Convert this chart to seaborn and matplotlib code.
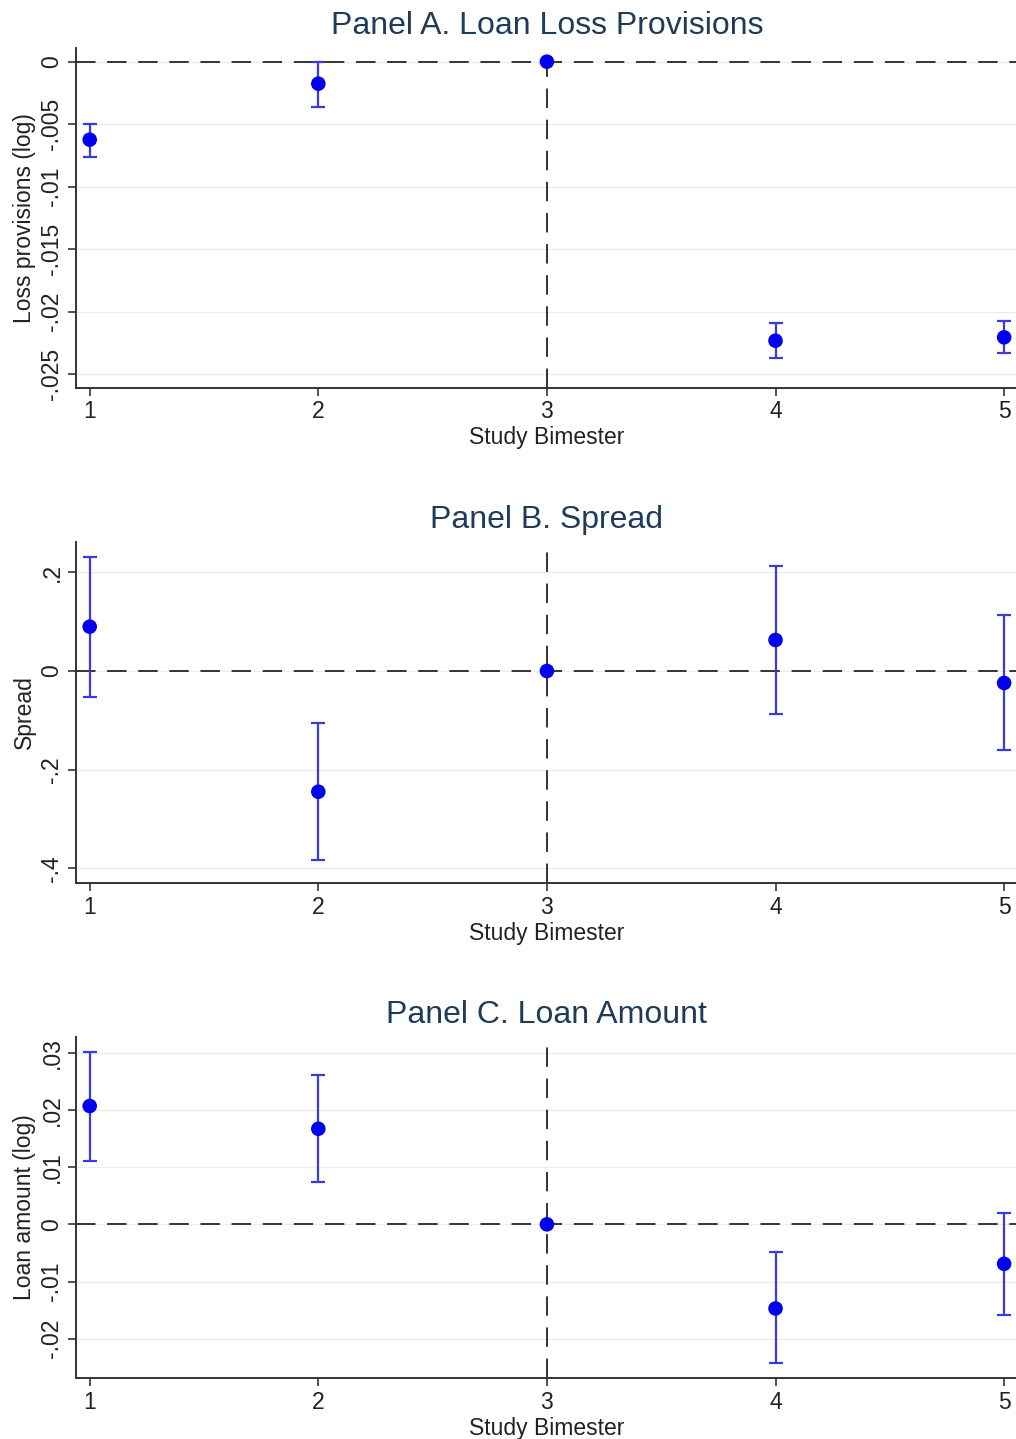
import matplotlib
matplotlib.use('Agg')
import matplotlib.pyplot as plt
import matplotlib.ticker as mticker
import seaborn as sns
import pandas as pd

sns.set_style('white')
plt.rcParams['font.family'] = ['Liberation Sans', 'DejaVu Sans']

bimester = [1, 2, 3, 4, 5]

# Panel A: loan loss provisions (log)
prov_coef = [-0.00624, -0.00176, 0.0, -0.02232, -0.02205]
prov_lo = [-0.0076, -0.0036, 0.0, -0.0237, -0.0233]
prov_hi = [-0.00496, 0.0, 0.0, -0.0209, -0.02077]

# Panel B: spread
spread_coef = [0.0898, -0.2446, 0.0, 0.0628, -0.0243]
spread_lo = [-0.052, -0.383, 0.0, -0.0871, -0.160]
spread_hi = [0.2316, -0.1048, 0.0, 0.2128, 0.1135]

# Panel C: loan amount (log)
amt_coef = [0.02068, 0.0167, 0.0, -0.0147, -0.0069]
amt_lo = [0.0111, 0.00734, 0.0, -0.0243, -0.0159]
amt_hi = [0.0302, 0.0261, 0.0, -0.0049, 0.0019]

panels = [
    ('Panel A. Loan Loss Provisions', 'Loss provisions (log)', prov_coef, prov_lo, prov_hi,
     (-0.0261, 0.0011), [0, -0.005, -0.01, -0.015, -0.02, -0.025]),
    ('Panel B. Spread', 'Spread', spread_coef, spread_lo, spread_hi,
     (-0.430, 0.262), [0.2, 0, -0.2, -0.4]),
    ('Panel C. Loan Amount', 'Loan amount (log)', amt_coef, amt_lo, amt_hi,
     (-0.0269, 0.0328), [0.03, 0.02, 0.01, 0, -0.01, -0.02]),
]


def stata_fmt(v, pos):
    s = ('%.3f' % v).rstrip('0').rstrip('.')
    if s in ('-0', ''):
        s = '0'
    s = s.replace('0.', '.')
    return s


fig = plt.figure(figsize=(10.16, 14.39), dpi=100)
bottoms = [0.7304, 0.3862, 0.0422]
heights = [0.2363, 0.2374, 0.2374]

navy = '#1e3b5a'
for (title, ylab, coef, lo, hi, ylim, yticks), b, h in zip(panels, bottoms, heights):
    ax = fig.add_axes([0.0748, b, 0.927, h])
    df = pd.DataFrame({'bimester': bimester, 'coef': coef, 'lo': lo, 'hi': hi})

    for yt in yticks:
        ax.axhline(yt, color='#ececec', lw=1, zorder=0)
    ax.axhline(0, color='#333333', lw=1.4, ls=(0, (10, 6)), zorder=1)
    ax.axvline(3, color='#333333', lw=1.4, ls=(0, (10, 6)), zorder=1)

    err = df[df['bimester'] != 3]
    ax.errorbar(err['bimester'], err['coef'],
                yerr=[err['coef'] - err['lo'], err['hi'] - err['coef']],
                fmt='none', ecolor='#3b3bdc', elinewidth=1.6, capsize=5, capthick=1.6, zorder=2)
    sns.scatterplot(data=df, x='bimester', y='coef', ax=ax, color='#0000ee',
                    s=110, edgecolor='none', zorder=3, legend=False)

    ax.set_xlim(0.94, 5.06)
    ax.set_ylim(*ylim)
    ax.set_xticks(bimester)
    ax.set_yticks(yticks)
    ax.yaxis.set_major_formatter(mticker.FuncFormatter(stata_fmt))
    ax.tick_params(axis='both', direction='out', length=6, width=1.2, color='#333333',
                   labelsize=16.5, labelcolor='#222222', bottom=True, left=True, pad=3)
    for lbl in ax.get_yticklabels():
        lbl.set_rotation(90)
        lbl.set_va('center')
    ax.set_xlabel('Study Bimester', fontsize=16.5, color='#222222', labelpad=2)
    ax.set_ylabel(ylab, fontsize=16.5, color='#222222', labelpad=3)
    ax.set_title(title, fontsize=23, color=navy, pad=10)
    sns.despine(ax=ax, top=True, right=True)
    for sp in ('left', 'bottom'):
        ax.spines[sp].set_color('#333333')
        ax.spines[sp].set_linewidth(1.4)

fig.savefig('out.png', dpi=100)
